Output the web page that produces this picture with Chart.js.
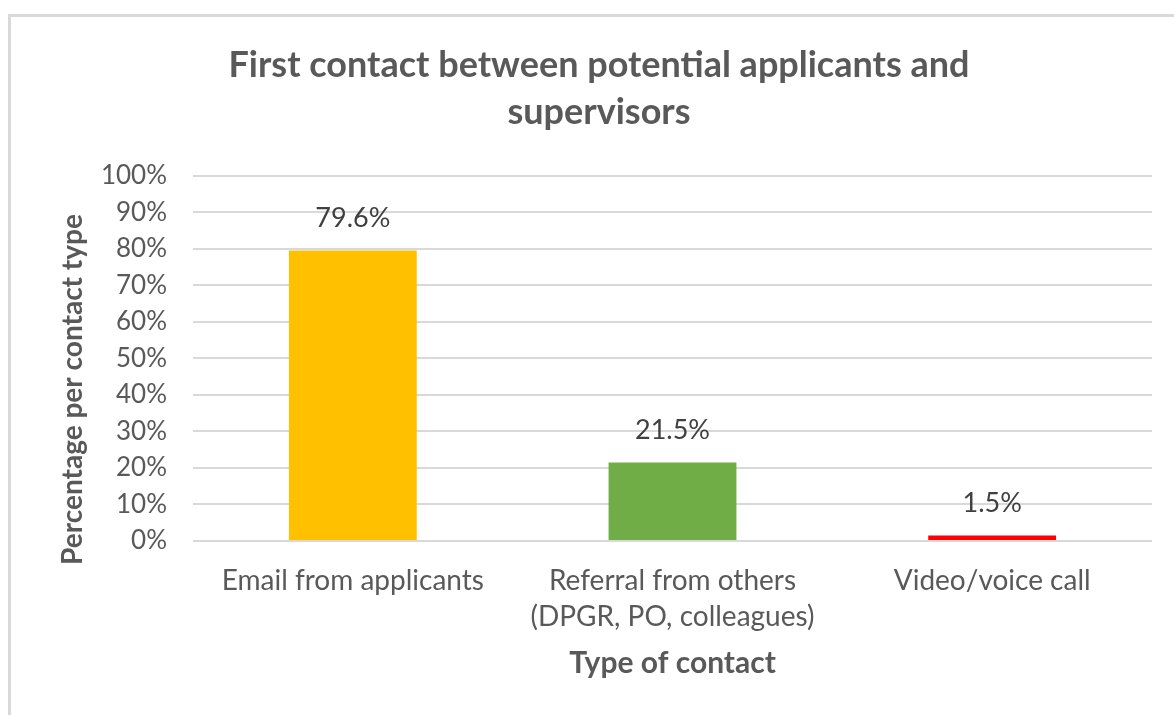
<!DOCTYPE html>
<html>
<head>
<meta charset="utf-8">
<script src="https://cdn.jsdelivr.net/npm/chart.js@4"></script>
<style>
  body { margin: 0; background: #fff; }
  #frame {
    position: absolute; left: 8px; top: 14px; width: 1200px; height: 720px;
    border-left: 3px solid #d9d9d9; border-top: 3px solid #d9d9d9;
  }
  #chart { position: absolute; left: 0; top: 0; }
</style>
</head>
<body>
<div id="frame"></div>
<canvas id="chart" width="1174" height="715"></canvas>
<script>
// data
const categories = ['Email from applicants', ['Referral from others', '(DPGR, PO, colleagues)'], 'Video/voice call'];
const percent_values = [79.6, 21.5, 1.5];
const bar_colors = ['#FFC000', '#70AD47', '#FF0000'];
const y_ticks = [0, 10, 20, 30, 40, 50, 60, 70, 80, 90, 100];
const y_title = 'Percentage per contact type';

const font_name = 'Lato, "Noto Sans", sans-serif';
const grey_text = '#595959';

// label above each bar + y axis title (sits a bit lower than the axis middle)
const bar_labels = {
  id: 'bar_labels',
  afterDatasetsDraw(chart) {
    const ctx = chart.ctx;
    const meta = chart.getDatasetMeta(0);
    ctx.save();
    ctx.font = '27px ' + font_name;
    ctx.fillStyle = '#404040';
    ctx.textAlign = 'center';
    ctx.textBaseline = 'middle';
    meta.data.forEach(function (bar, i) {
      ctx.fillText(percent_values[i].toFixed(1) + '%', bar.x, bar.y - 32);
    });
    ctx.restore();

    const area = chart.chartArea;
    ctx.save();
    ctx.translate(73, area.bottom - (area.bottom - area.top) * 0.415);
    ctx.rotate(-Math.PI / 2);
    ctx.font = 'bold 28px ' + font_name;
    ctx.fillStyle = grey_text;
    ctx.textAlign = 'center';
    ctx.textBaseline = 'middle';
    ctx.fillText(y_title, 0, 0);
    ctx.restore();
  }
};

const el = document.getElementById('chart');

new Chart(el, {
  type: 'bar',
  data: {
    labels: categories,
    datasets: [{
      data: percent_values,
      backgroundColor: bar_colors,
      borderWidth: 0,
      categoryPercentage: 1,
      barPercentage: 0.4
    }]
  },
  options: {
    responsive: false,
    animation: false,
    layout: { padding: { left: 46, right: 22, top: 20, bottom: 30 } },
    plugins: {
      legend: { display: false },
      tooltip: { enabled: false },
      title: {
        display: true,
        text: ['First contact between potential applicants and', 'supervisors'],
        color: grey_text,
        font: { family: font_name, size: 36, weight: 'bold', lineHeight: 1.305 },
        padding: { top: 22, bottom: 40 }
      }
    },
    scales: {
      x: {
        grid: { display: false },
        border: { display: false },
        ticks: {
          color: grey_text,
          font: { family: font_name, size: 28, lineHeight: 1.32 },
          padding: 13,
          maxRotation: 0,
          autoSkip: false
        },
        title: {
          display: true,
          text: 'Type of contact',
          color: grey_text,
          font: { family: font_name, size: 30, weight: 'bold' },
          padding: { top: 0, bottom: 4 }
        },
        afterFit(scale) { scale.height = 144; }
      },
      y: {
        min: 0,
        max: 100,
        afterBuildTicks(scale) { scale.ticks = y_ticks.map(v => ({ value: v })); },
        grid: { color: '#d9d9d9', lineWidth: 2, drawTicks: false },
        border: { display: false },
        ticks: {
          color: grey_text,
          font: { family: font_name, size: 26 },
          padding: 26,
          callback: v => v + '%'
        },
        afterFit(scale) { scale.width = 147; }
      }
    }
  },
  plugins: [bar_labels]
});
</script>
</body>
</html>
